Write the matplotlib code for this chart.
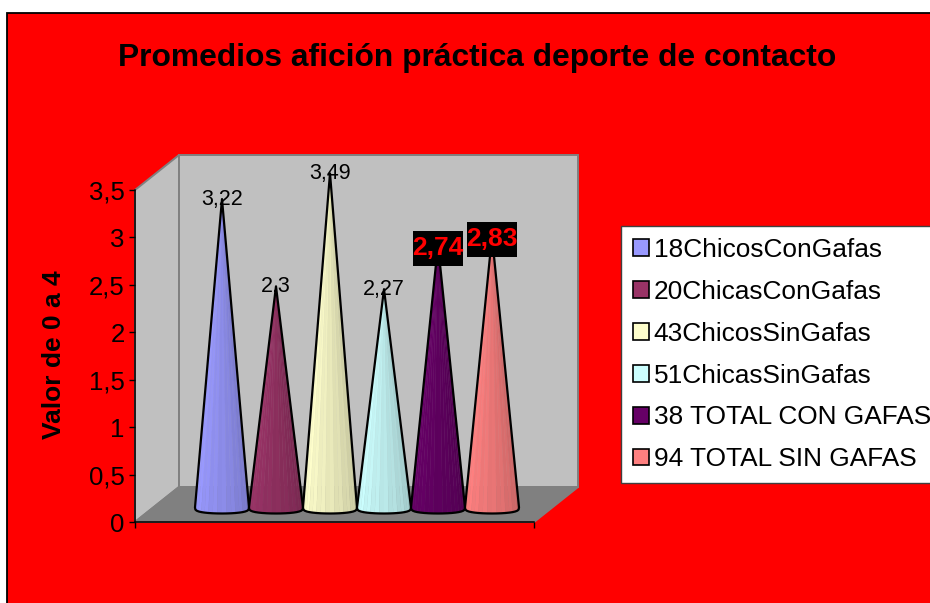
import numpy as np
import matplotlib
matplotlib.use("Agg")
import matplotlib.pyplot as plt
from matplotlib.patches import Polygon, Rectangle, Patch
from matplotlib.colors import to_rgb
from matplotlib.transforms import Affine2D

plt.rcParams['font.family'] = ['Liberation Sans', 'DejaVu Sans']

TITLE = "Promedios afición práctica deporte de contacto"
YLABEL = "Valor de 0 a 4"
series = ["18ChicosConGafas", "20ChicasConGafas", "43ChicosSinGafas",
          "51ChicasSinGafas", "38 TOTAL CON GAFAS", "94 TOTAL SIN GAFAS"]
values = [3.22, 2.3, 3.49, 2.27, 2.74, 2.83]
value_labels = ["3,22", "2,3", "3,49", "2,27", "2,74", "2,83"]
highlighted = [False, False, False, False, True, True]
colors = ["#9999FF", "#993366", "#FFFFCC", "#CCFFFF", "#660066", "#FF8080"]
yticks = [0, 0.5, 1, 1.5, 2, 2.5, 3, 3.5]
yticklabels = ["0", "0,5", "1", "1,5", "2", "2,5", "3", "3,5"]

W, H = 930, 603
fig = plt.figure(figsize=(W / 100, H / 100), dpi=100, facecolor="white")
fig.add_artist(Rectangle((6.5 / W, -0.01), 1.0, 1 - 13.5 / H + 0.01, transform=fig.transFigure,
                         facecolor="#FF0000", edgecolor="black", linewidth=1.3, zorder=-5))

L, R, T, B = 135, 534, 190, 522
ax = fig.add_axes([L / W, (H - B) / H, (R - L) / W, (B - T) / H])
ax.patch.set_alpha(0)
PX_X = 54.0
ax.set_xlim((L - 200) / PX_X, (R - 200) / PX_X)
ax.set_ylim(0, 3.5)
PX_Y = (B - T) / 3.5
DX, DY = 44 / PX_X, 35 / PX_Y
x0, x1 = ax.get_xlim()
y0, y1 = ax.get_ylim()

wall = dict(edgecolor="#808080", linewidth=1.4, clip_on=False, zorder=1)
ax.add_patch(Polygon([(x0, y0), (x0 + DX, y0 + DY), (x0 + DX, y1 + DY), (x0, y1)], facecolor="#C0C0C0", **wall))
ax.add_patch(Polygon([(x0 + DX, y0 + DY), (x1 + DX, y0 + DY), (x1 + DX, y1 + DY), (x0 + DX, y1 + DY)], facecolor="#C0C0C0", **wall))
ax.add_patch(Polygon([(x0, y0), (x1, y0), (x1 + DX, y0 + DY), (x0 + DX, y0 + DY)], facecolor="#808080", **wall))

N = 18
for i, (v, c) in enumerate(zip(values, colors)):
    cx, cy = i + DX / 2, DY / 2
    rx, ry = 0.5, 6.0 / PX_Y
    base_cy = cy - 3.0 / PX_Y
    ang = np.linspace(np.pi, 2 * np.pi, N + 1)
    ex = cx + rx * np.cos(ang)
    ey = base_cy - ry * np.abs(np.sin(ang)) ** 0.6
    apex = (cx, cy + v)
    base = np.array(to_rgb(c))
    for k in range(N):
        t = k / (N - 1)
        shade = 1.0 - 0.24 * t ** 1.2 + (0.025 if k % 2 else 0.0)
        fc = tuple(np.clip(base * shade, 0, 1))
        ax.add_patch(Polygon([apex, (ex[k], ey[k]), (ex[k + 1], ey[k + 1])], facecolor=fc,
                             edgecolor=fc, linewidth=0.3, clip_on=False, zorder=3 + i))
    outline = [apex] + list(zip(ex, ey))
    ax.add_patch(Polygon(outline, closed=True, facecolor="none", edgecolor="black",
                         linewidth=1.6, joinstyle="round", clip_on=False, zorder=3 + i))

for i, (v, lab, hl) in enumerate(zip(values, value_labels, highlighted)):
    cx, cy = i + DX / 2, DY / 2
    if hl:
        px, py = ax.transData.transform((cx, cy + v))
        ax.add_patch(Rectangle((-25, -21), 50, 35, facecolor="black", edgecolor="none", clip_on=False,
                               transform=Affine2D().translate(px, py), zorder=19))
        ax.annotate(lab, (cx, cy + v), xytext=(0, -3), textcoords="offset pixels", ha="center", va="center",
                    fontsize=19, fontweight="bold", color="#FF0000", zorder=20, annotation_clip=False)
    else:
        ax.annotate(lab, (cx, cy + v), xytext=(0, 0), textcoords="offset pixels", ha="center", va="center",
                    fontsize=15.5, color="black", zorder=20, annotation_clip=False)

for s in ("top", "right"):
    ax.spines[s].set_visible(False)
for s in ("left", "bottom"):
    ax.spines[s].set_zorder(2)
    ax.spines[s].set_linewidth(1.1)
ax.set_yticks(yticks, yticklabels, fontsize=18.5)
ax.set_xticks([x0, x1], ["", ""])
ax.tick_params(axis="both", direction="out", length=4, width=1, pad=3.5)

fig.text(477 / W, 1 - 58 / H, TITLE, ha="center", va="center", fontsize=22.9, fontweight="bold", color="black")
fig.text(54 / W, 1 - 355 / H, YLABEL, ha="center", va="center", rotation=90, fontsize=19, fontweight="bold", color="black")

handles = [Patch(facecolor=c, edgecolor="black", linewidth=1.2) for c in colors]
leg = fig.legend(handles, series, loc="upper left", bbox_to_anchor=(620.5 / W, 1 - 226 / H),
                 bbox_transform=fig.transFigure, borderaxespad=0, frameon=True, fancybox=False,
                 facecolor="white", edgecolor="#404040", framealpha=1, fontsize=18.9,
                 handlelength=0.61, handleheight=0.61, handletextpad=0.2, labelspacing=0.68,
                 borderpad=0.46)
leg.get_frame().set_linewidth(1)

fig.savefig("out.png", dpi=100, facecolor=fig.get_facecolor())
